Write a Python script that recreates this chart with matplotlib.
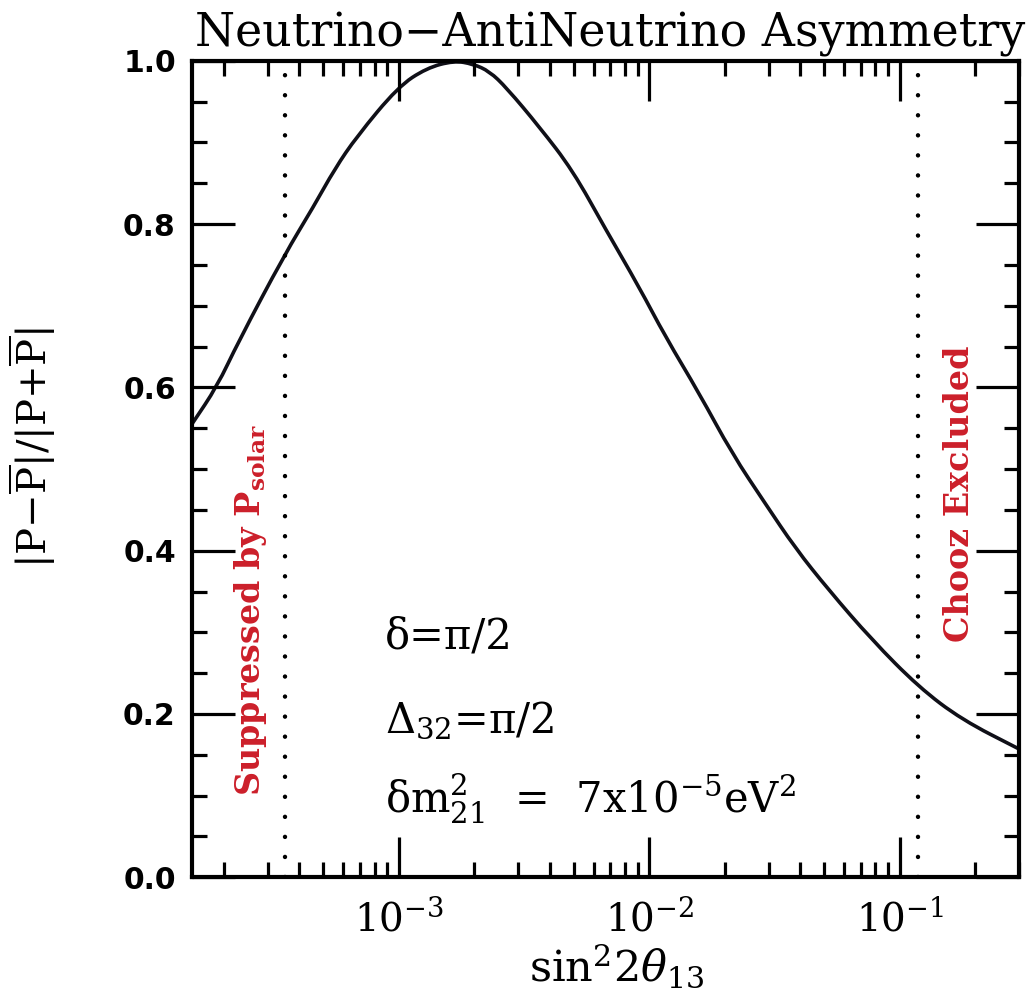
import matplotlib
matplotlib.use("Agg")
import matplotlib.pyplot as plt
import numpy as np
from matplotlib.path import Path
from matplotlib.patches import PathPatch
from matplotlib.ticker import MultipleLocator, LogLocator, NullFormatter

# values
sin2_2theta13 = [1.50e-4, 1.88e-4, 2.29e-4, 3.49e-4, 4.56e-4, 5.56e-4, 6.79e-4,
                 9.93e-4, 1.29e-3, 1.66e-3, 1.98e-3, 2.30e-3, 2.69e-3, 3.64e-3,
                 4.94e-3, 6.71e-3, 9.10e-3, 1.16e-2, 1.58e-2, 2.14e-2, 2.90e-2,
                 3.83e-2, 5.20e-2, 7.73e-2, 0.119, 0.177, 0.300]
asymmetry = [0.556, 0.601, 0.656, 0.762, 0.821, 0.868, 0.907,
             0.968, 0.991, 1.000, 0.996, 0.987, 0.967, 0.919,
             0.866, 0.793, 0.723, 0.662, 0.593, 0.519, 0.458,
             0.403, 0.352, 0.291, 0.233, 0.193, 0.157]

solar_limit = 3.5e-4
chooz_limit = 0.118

x_ticks = [1e-3, 1e-2, 1e-1]
x_tick_labels = [r"$10^{-3}$", r"$10^{-2}$", r"$10^{-1}$"]
y_ticks = [0.0, 0.2, 0.4, 0.6, 0.8, 1.0]
y_tick_labels = ["0.0", "0.2", "0.4", "0.6", "0.8", "1.0"]

plt.rcParams["mathtext.fontset"] = "dejavuserif"
plt.rcParams["font.family"] = ["DejaVu Serif"]

red = "#cc1f2a"


def smooth_path(xs, ys):
    # quadratic bezier through midpoints (midpoints taken in log-x display space)
    xs = np.asarray(xs, dtype=float)
    ys = np.asarray(ys, dtype=float)
    mx = np.sqrt(xs[:-1] * xs[1:])
    my = 0.5 * (ys[:-1] + ys[1:])
    verts = [(xs[0], ys[0]), (mx[0], my[0])]
    codes = [Path.MOVETO, Path.LINETO]
    for i in range(1, len(xs) - 1):
        verts += [(xs[i], ys[i]), (mx[i], my[i])]
        codes += [Path.CURVE3, Path.CURVE3]
    verts.append((xs[-1], ys[-1]))
    codes.append(Path.LINETO)
    return Path(verts, codes)


fig = plt.figure(figsize=(10.33, 9.94), dpi=100)
ax = fig.add_axes([0.1863, 0.1174, 0.8004, 0.8215])

ax.set_xscale("log")
ax.set_xlim(1.5e-4, 0.3)
ax.set_ylim(0.0, 1.0)

curve = PathPatch(smooth_path(sin2_2theta13, asymmetry), facecolor="none",
                  edgecolor="#101018", lw=2.6, capstyle="round", joinstyle="round")
ax.add_patch(curve)

for xv in (solar_limit, chooz_limit):
    ax.axvline(xv, color="black", lw=3.2, linestyle=(0, (0.01, 4.5)),
               dash_capstyle="round")

ax.set_xticks(x_ticks)
ax.set_xticklabels(x_tick_labels, fontsize=28)
ax.xaxis.set_minor_locator(LogLocator(base=10, subs=range(2, 10), numticks=20))
ax.xaxis.set_minor_formatter(NullFormatter())

ax.set_yticks(y_ticks)
ax.set_yticklabels(y_tick_labels, fontsize=21.5, fontweight="bold",
                   family="DejaVu Sans")
ax.yaxis.set_minor_locator(MultipleLocator(0.05))

ax.tick_params(which="both", direction="in", top=True, right=True, width=2.3)
ax.tick_params(axis="y", which="major", length=31, pad=12)
ax.tick_params(axis="x", which="major", length=29, pad=16)
ax.tick_params(which="minor", length=11)
for s in ax.spines.values():
    s.set_linewidth(3)

# labels
fig.text(0.5905, 0.953, "Neutrino\u2212AntiNeutrino Asymmetry", fontsize=33,
         ha="center", va="baseline")
fig.text(617 / 1033, 0.004, r"$\mathrm{sin}^2 2\theta_{13}$", fontsize=31,
         ha="center", va="bottom")
fig.text(32 / 1033, 1 - 448 / 994,
         r"$|\mathrm{P}{-}\overline{\mathrm{P}}|/|\mathrm{P}{+}\overline{\mathrm{P}}|$",
         fontsize=29, rotation=90, ha="center", va="center")

# annotations
ax.text(0.2328, 0.2808, "δ=π/2", fontsize=30, transform=ax.transAxes,
        va="baseline")
ax.text(0.2328, 0.178, r"Δ$_{32}$=π/2", fontsize=30, transform=ax.transAxes,
        va="baseline")
ax.text(0.2328, 0.0787, r"δm$^2_{21}$  =  7x10$^{-5}$eV$^2$",
        fontsize=30, transform=ax.transAxes, va="baseline")

ax.text(0.0708, 0.3273, r"$\mathbf{Suppressed\ by\ P_{solar}}$", fontsize=24,
        color=red, rotation=90, ha="center", va="center", transform=ax.transAxes)
ax.text(0.9283, 0.4694, "Chooz Excluded", fontsize=24, fontweight="bold",
        color=red, rotation=90, ha="center", va="center", transform=ax.transAxes)

fig.savefig("out.png", dpi=100)
